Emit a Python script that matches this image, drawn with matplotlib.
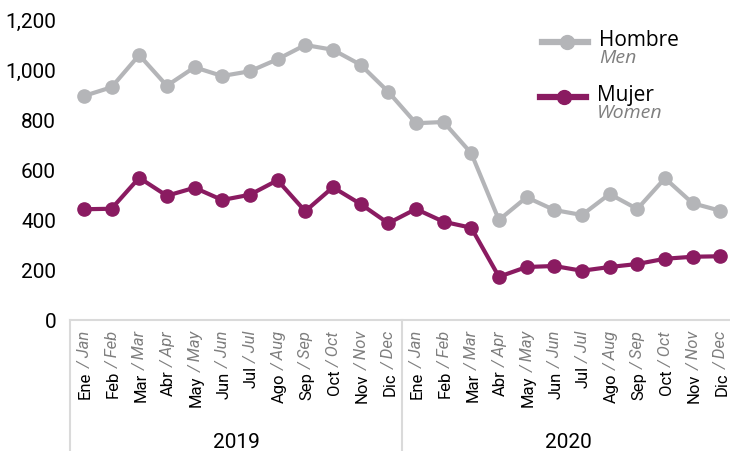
import matplotlib.pyplot as plt
import matplotlib.transforms as mtransforms
import numpy as np

meses_es = ['Ene', 'Feb', 'Mar', 'Abr', 'May', 'Jun', 'Jul', 'Ago', 'Sep', 'Oct', 'Nov', 'Dic']
meses_en = ['Jan', 'Feb', 'Mar', 'Apr', 'May', 'Jun', 'Jul', 'Aug', 'Sep', 'Oct', 'Nov', 'Dec']
anios = ['2019', '2020']

hombre = [896, 931, 1060, 937, 1011, 976, 995, 1043, 1100, 1081, 1021, 913,
          787, 792, 667, 400, 491, 440, 420, 504, 444, 567, 467, 437]
mujer = [443, 445, 569, 497, 529, 480, 501, 559, 435, 531, 464, 387,
         444, 393, 369, 173, 212, 216, 197, 212, 224, 245, 253, 255]

gris = '#B4B5B8'
morado = '#8A1B61'
gris_txt = '#7F7F7F'
linea_eje = '#DADADA'

plt.rcParams['font.family'] = ['Roboto', 'DejaVu Sans']

fig = plt.figure(figsize=(7.3, 4.51), dpi=100)
ax = fig.add_axes([70 / 730, 131 / 451, 660 / 730, 300 / 451])

x = np.arange(len(hombre))
ax.plot(x, hombre, color=gris, lw=3, marker='o', ms=9.5, zorder=3)
ax.plot(x, mujer, color=morado, lw=3, marker='o', ms=9.5, zorder=3)

ax.set_xlim(-0.5, 23.35)
ax.set_ylim(0, 1200)
ax.set_yticks(range(0, 1201, 200))
ax.set_yticklabels([f'{v:,}' for v in range(0, 1201, 200)], fontsize=15)
ax.tick_params(axis='y', length=0, pad=10)
ax.set_xticks([])
for s in ['top', 'right', 'left']:
    ax.spines[s].set_visible(False)
ax.spines['bottom'].set_color(linea_eje)
ax.spines['bottom'].set_linewidth(1.5)

trans = mtransforms.blended_transform_factory(ax.transData, ax.transAxes)

# separadores de grupo bajo el eje
for sep in [-0.5, 11.5]:
    ax.plot([sep, sep], [0, -0.44], transform=trans, color=linea_eje, lw=1.5,
            clip_on=False)

# etiquetas de mes (negro + gris cursiva)
fig.canvas.draw()
renderer = fig.canvas.get_renderer()
y_top = -11 / 300
etiquetas = []
for i in range(len(hombre)):
    m = i % 12
    t = ax.text(i, y_top, '/ ' + meses_en[m], transform=trans, rotation=90,
                rotation_mode='anchor', ha='right', va='center_baseline',
                fontsize=12, style='italic', color=gris_txt)
    etiquetas.append(t)
fig.canvas.draw()
for i, t in enumerate(etiquetas):
    bb = t.get_window_extent(renderer)
    y_ax = ax.transAxes.inverted().transform((0, bb.y0 - 3))[1]
    ax.text(i, y_ax, meses_es[i % 12], transform=trans, rotation=90,
            rotation_mode='anchor', ha='right', va='center_baseline',
            fontsize=12, color='black')

for k, a in enumerate(anios):
    ax.text(5.5 + 12 * k, -123 / 300, a, transform=trans, ha='center',
            va='center', fontsize=15, color='black')

# leyenda
ax.plot([0.715, 0.785], [0.927, 0.927], transform=ax.transAxes, color=gris,
        lw=4.5, clip_on=False)
ax.plot([0.753], [0.927], transform=ax.transAxes, color=gris, marker='o',
        ms=10, clip_on=False)
ax.plot([0.712, 0.782], [0.743, 0.743], transform=ax.transAxes, color=morado,
        lw=4.5, clip_on=False)
ax.plot([0.749], [0.743], transform=ax.transAxes, color=morado, marker='o',
        ms=10, clip_on=False)

ley = dict(transform=ax.transAxes, family=['Open Sans', 'DejaVu Sans'], va='center')
ax.text(0.802, 0.933, 'Hombre', fontsize=15, color='black', **ley)
ax.text(0.802, 0.872, 'Men', fontsize=14, color=gris_txt, style='italic', **ley)
ax.text(0.798, 0.750, 'Mujer', fontsize=15, color='black', **ley)
ax.text(0.798, 0.690, 'Women', fontsize=14, color=gris_txt, style='italic', **ley)

fig.savefig('out.png', dpi=100)
